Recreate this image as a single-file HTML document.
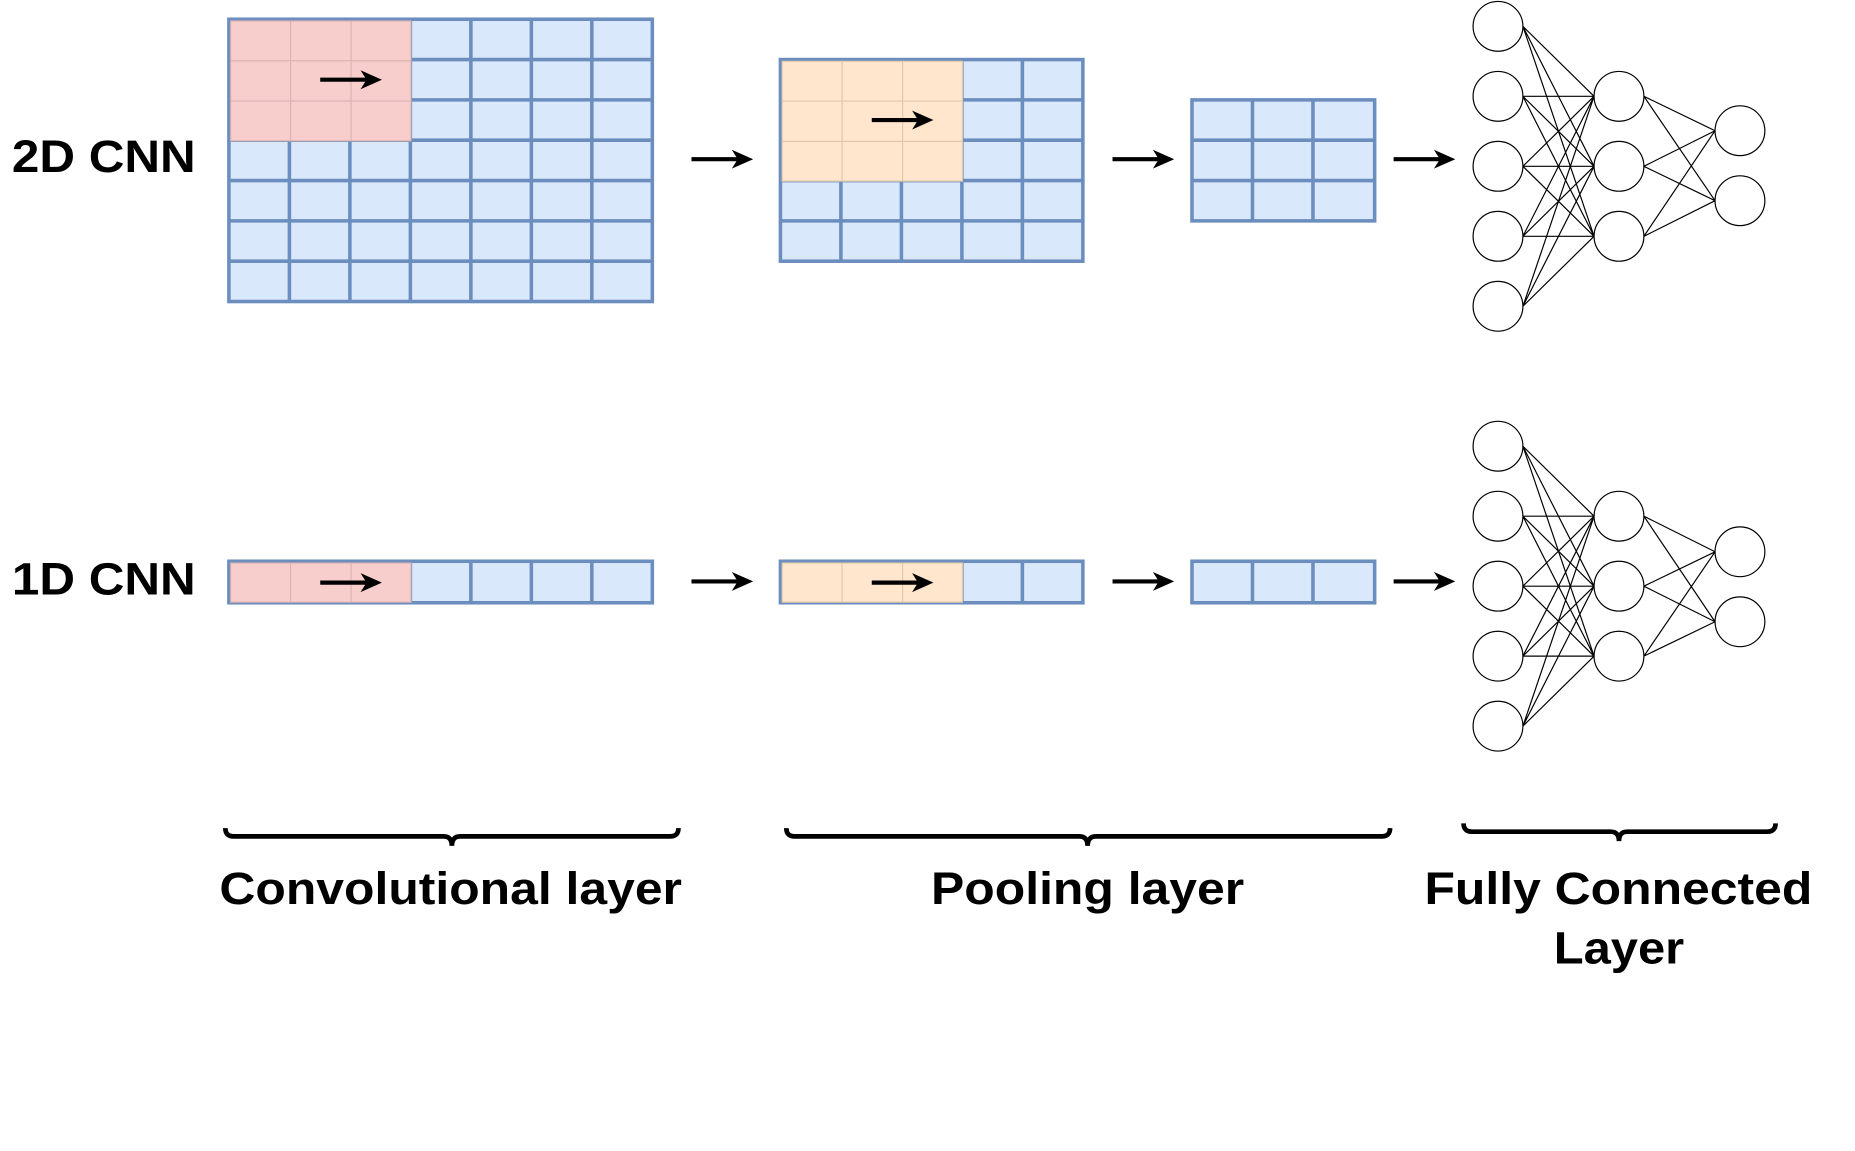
<!DOCTYPE html>
<html><head><style>html,body{margin:0;padding:0;background:#fff;}svg{display:block}</style></head>
<body>
<svg width="1855" height="1151" viewBox="0 0 1564 970" xmlns="http://www.w3.org/2000/svg" font-family="Liberation Sans, Arial, sans-serif" font-weight="bold">
<g stroke="#6c8ebf" stroke-width="3" fill="#dae8fc">
  <rect x="193" y="16" width="357" height="238"/>
  <path d="M244,16V254M295,16V254M346,16V254M397,16V254M448,16V254M499,16V254M193,50H550M193,84H550M193,118H550M193,152H550M193,186H550M193,220H550" fill="none"/>
  <rect x="658" y="50" width="255" height="170"/>
  <path d="M709,50V220M760,50V220M811,50V220M862,50V220M658,84H913M658,118H913M658,152H913M658,186H913" fill="none"/>
  <rect x="1005" y="84" width="154" height="102"/>
  <path d="M1056,84V186M1107,84V186M1005,118H1159M1005,152H1159" fill="none"/>
  <rect x="193" y="473" width="357" height="35"/>
  <path d="M244,473V508M295,473V508M346,473V508M397,473V508M448,473V508M499,473V508" fill="none"/>
  <rect x="658" y="473" width="255" height="35"/>
  <path d="M709,473V508M760,473V508M811,473V508M862,473V508" fill="none"/>
  <rect x="1005" y="473" width="154" height="35"/>
  <path d="M1056,473V508M1107,473V508" fill="none"/>
</g>
<g stroke="#d9b3b3" stroke-width="1">
  <rect x="194.5" y="17.5" width="152" height="101" fill="#f8cecc"/>
  <path d="M245,17.5V118.5M296,17.5V118.5M194.5,51H346.5M194.5,85H346.5" fill="none"/>
  <rect x="194.5" y="474.5" width="152" height="33" fill="#f8cecc"/>
  <path d="M245,474.5V507.5M296,474.5V507.5" fill="none"/>
</g>
<g stroke="#e0c8a8" stroke-width="1">
  <rect x="659.5" y="51.5" width="152" height="101" fill="#ffe6cc"/>
  <path d="M710,51.5V152.5M761,51.5V152.5M659.5,85H811.5M659.5,119H811.5" fill="none"/>
  <rect x="659.5" y="474.5" width="152" height="33" fill="#ffe6cc"/>
  <path d="M710,474.5V507.5M761,474.5V507.5" fill="none"/>
</g>
<g stroke="#000" stroke-width="3.5">
  <path d="M270,67H310M735,101H775M270,491H310M735,491H775M583,134H623M938,134H978M1175,134H1215M583,490H623M938,490H978M1175,490H1215"/>
</g>
<g fill="#000">
  <path d="M322,67L304,59L309,67L304,75Z"/>
  <path d="M787,101L769,93L774,101L769,109Z"/>
  <path d="M322,491L304,483L309,491L304,499Z"/>
  <path d="M787,491L769,483L774,491L769,499Z"/>
  <path d="M635,134L617,126L622,134L617,142Z"/>
  <path d="M990,134L972,126L977,134L972,142Z"/>
  <path d="M1227,134L1209,126L1214,134L1209,142Z"/>
  <path d="M635,490L617,482L622,490L617,498Z"/>
  <path d="M990,490L972,482L977,490L972,498Z"/>
  <path d="M1227,490L1209,482L1214,490L1209,498Z"/>
</g>
<g stroke="#000" stroke-width="1" fill="#fff">
  <path d="M1284,22L1344,81M1284,22L1344,140M1284,22L1344,199M1284,81L1344,81M1284,81L1344,140M1284,81L1344,199M1284,140L1344,81M1284,140L1344,140M1284,140L1344,199M1284,199L1344,81M1284,199L1344,140M1284,199L1344,199M1284,258L1344,81M1284,258L1344,140M1284,258L1344,199M1386,81L1446,110M1386,81L1446,169M1386,140L1446,110M1386,140L1446,169M1386,199L1446,110M1386,199L1446,169" fill="none"/>
  <circle cx="1263" cy="22" r="21"/><circle cx="1263" cy="81" r="21"/><circle cx="1263" cy="140" r="21"/><circle cx="1263" cy="199" r="21"/><circle cx="1263" cy="258" r="21"/>
  <circle cx="1365" cy="81" r="21"/><circle cx="1365" cy="140" r="21"/><circle cx="1365" cy="199" r="21"/>
  <circle cx="1467" cy="110" r="21"/><circle cx="1467" cy="169" r="21"/>
  <path d="M1284,376L1344,435M1284,376L1344,494M1284,376L1344,553M1284,435L1344,435M1284,435L1344,494M1284,435L1344,553M1284,494L1344,435M1284,494L1344,494M1284,494L1344,553M1284,553L1344,435M1284,553L1344,494M1284,553L1344,553M1284,612L1344,435M1284,612L1344,494M1284,612L1344,553M1386,435L1446,465M1386,435L1446,524M1386,494L1446,465M1386,494L1446,524M1386,553L1446,465M1386,553L1446,524" fill="none"/>
  <circle cx="1263" cy="376" r="21"/><circle cx="1263" cy="435" r="21"/><circle cx="1263" cy="494" r="21"/><circle cx="1263" cy="553" r="21"/><circle cx="1263" cy="612" r="21"/>
  <circle cx="1365" cy="435" r="21"/><circle cx="1365" cy="494" r="21"/><circle cx="1365" cy="553" r="21"/>
  <circle cx="1467" cy="465" r="21"/><circle cx="1467" cy="524" r="21"/>
</g>
<g stroke="#000" stroke-width="4" fill="none">
  <path d="M190,698 Q190,705 197,705 H374 Q381,705 381,713 Q381,705 388,705 H565 Q572,705 572,698"/>
  <path d="M663,698 Q663,705 670,705 H910 Q917,705 917,713 Q917,705 924,705 H1165 Q1172,705 1172,698"/>
  <path d="M1234,694 Q1234,701 1241,701 H1358 Q1365,701 1365,709 Q1365,701 1372,701 H1490 Q1497,701 1497,694"/>
</g>
<g fill="#000" font-size="38">
  <text x="10" y="145" textLength="155" lengthAdjust="spacingAndGlyphs">2D CNN</text>
  <text x="10" y="501" textLength="155" lengthAdjust="spacingAndGlyphs">1D CNN</text>
  <text x="185" y="762" textLength="390" lengthAdjust="spacingAndGlyphs">Convolutional layer</text>
  <text x="785" y="762" textLength="264" lengthAdjust="spacingAndGlyphs">Pooling layer</text>
  <text x="1201" y="762" textLength="327" lengthAdjust="spacingAndGlyphs">Fully Connected</text>
  <text x="1310" y="812" textLength="110" lengthAdjust="spacingAndGlyphs">Layer</text>
</g>
</svg>
</body></html>
